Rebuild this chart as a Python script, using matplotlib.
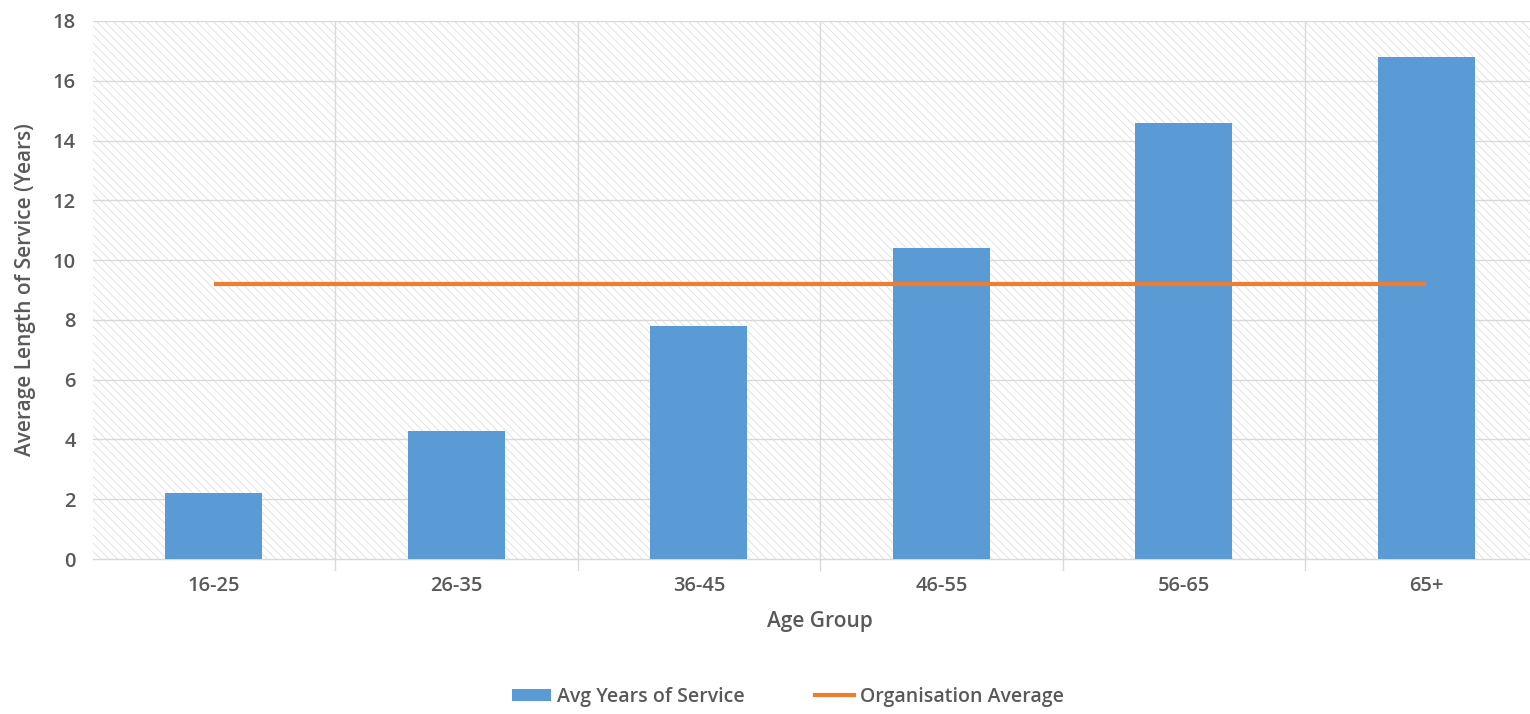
import matplotlib
matplotlib.use("Agg")
import matplotlib.pyplot as plt
from matplotlib.patches import Rectangle, Patch
from matplotlib.lines import Line2D
import numpy as np

age_groups = ["16-25", "26-35", "36-45", "46-55", "56-65", "65+"]
avg_years = [2.2, 4.3, 7.8, 10.4, 14.6, 16.8]
org_average = 9.2
y_ticks = [0, 2, 4, 6, 8, 10, 12, 14, 16, 18]

bar_color = "#5B9BD5"
line_color = "#ED7D31"
text_color = "#595959"
grid_color = "#d9d9d9"

plt.rcParams["font.family"] = ["Open Sans", "DejaVu Sans"]
plt.rcParams["font.weight"] = "semibold"
plt.rcParams["axes.labelweight"] = "semibold"
plt.rcParams["hatch.color"] = "#dedede"
plt.rcParams["hatch.linewidth"] = 0.6

fig = plt.figure(figsize=(15.3, 7.14), dpi=100)
ax = fig.add_axes([0.0605, 0.217, 0.951, 0.7536])

x = np.arange(len(age_groups))

# hatched plot background
bg = Rectangle((0, 0), 1, 1, transform=ax.transAxes, facecolor="white",
               edgecolor="#dedede", hatch="\\\\\\\\", linewidth=0, zorder=0)
ax.add_patch(bg)

ax.bar(x, avg_years, width=0.40, color=bar_color, zorder=3)
ax.plot([x[0], x[-1]], [org_average, org_average], color=line_color,
        linewidth=3, zorder=4, solid_capstyle="butt")

ax.set_xlim(-0.5, len(age_groups) - 0.5)
ax.set_ylim(0, 18)
ax.set_yticks(y_ticks)
ax.set_xticks(x)
ax.set_xticklabels(age_groups)

# grid: horizontal at each tick, vertical between categories
for yv in y_ticks[1:]:
    ax.axhline(yv, color=grid_color, linewidth=1, zorder=1)
for b in np.arange(0.5, len(age_groups) - 0.5, 1.0):
    ax.axvline(b, color=grid_color, linewidth=1, zorder=1)
    ax.plot([b, b], [0, -0.02], transform=ax.get_xaxis_transform(),
            color=grid_color, linewidth=1, clip_on=False)

for s in ["top", "right", "left"]:
    ax.spines[s].set_visible(False)
ax.spines["bottom"].set_color(grid_color)
ax.spines["bottom"].set_linewidth(1)

ax.tick_params(axis="both", length=0, labelsize=14.5, colors=text_color)
ax.tick_params(axis="x", pad=12)
ax.tick_params(axis="y", pad=12)

ax.set_xlabel("Age Group", fontsize=15, color=text_color, labelpad=11)
ax.set_ylabel("Average Length of Service (Years)", fontsize=15,
              color=text_color, labelpad=12)

handles = [Patch(facecolor=bar_color, edgecolor="none"),
           Line2D([0], [0], color=line_color, linewidth=3)]
fig.legend(handles, ["Avg Years of Service", "Organisation Average"],
           loc="center", bbox_to_anchor=(0.515, 0.024), ncol=2, frameon=False,
           fontsize=14, labelcolor=text_color, handlelength=2.0,
           handleheight=0.55, handletextpad=0.3, columnspacing=3.6)

fig.savefig("out.png", dpi=100)
